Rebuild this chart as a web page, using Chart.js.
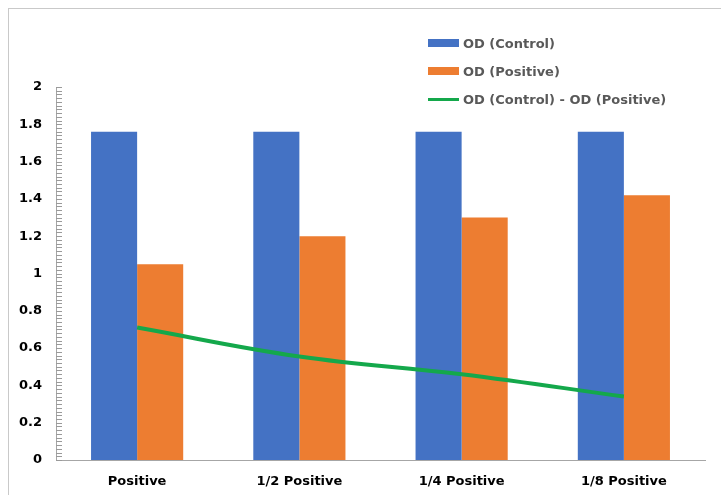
<!DOCTYPE html>
<html>
<head>
<meta charset="utf-8">
<script src="https://cdn.jsdelivr.net/npm/chart.js@4/dist/chart.umd.min.js"></script>
<style>
  body { margin: 0; background: #fff; }
  #wrap { position: relative; width: 721px; height: 495px; overflow: hidden; }
  #frame {
    position: absolute; left: 8px; top: 8px; width: 740px; height: 520px;
    border-left: 1px solid #c9c9c9; border-top: 1px solid #c9c9c9;
  }
  canvas { position: absolute; left: 0; top: 0; }
  #legend {
    position: absolute; left: 428px; top: 33px;
    font: bold 13px "DejaVu Sans", sans-serif; color: #595959;
  }
  .item { display: flex; align-items: center; height: 20px; margin-bottom: 8px; }
  .swatch { width: 31px; height: 8px; margin-right: 4px; }
  .swatch.line { height: 3px; }
</style>
</head>
<body>
<div id="wrap">
  <div id="frame"></div>
  <canvas id="odChart" width="721" height="495"></canvas>
  <div id="legend"></div>
</div>
<script>
const categories = ["Positive", "1/2 Positive", "1/4 Positive", "1/8 Positive"];
const odControl = [1.76, 1.76, 1.76, 1.76];
const odPositive = [1.05, 1.2, 1.3, 1.42];
const odDiff = [0.71, 0.555, 0.46, 0.34];

const BLUE = "#4472C4";
const ORANGE = "#ED7D31";
const GREEN = "#14A84B";
const FONT = "'DejaVu Sans', sans-serif";

// little inside ticks on the value axis, every 0.02
const minorTicks = {
  id: "minorTicks",
  afterDraw(chart) {
    const y = chart.scales.y;
    const ctx = chart.ctx;
    ctx.save();
    ctx.strokeStyle = "#9a9a9a";
    ctx.lineWidth = 1;
    ctx.beginPath();
    for (let i = 0; i <= 100; i++) {
      const py = Math.round(y.getPixelForValue(i * 0.02)) + 0.5;
      ctx.moveTo(y.right, py);
      ctx.lineTo(y.right + 6, py);
    }
    ctx.stroke();
    ctx.restore();
  },
};

const chart = new Chart(document.getElementById("odChart"), {
  type: "bar",
  data: {
    labels: categories,
    datasets: [
      {
        type: "line",
        label: "OD (Control) - OD (Positive)",
        data: odDiff,
        borderColor: GREEN,
        backgroundColor: GREEN,
        borderWidth: 4,
        tension: 0.4,
        pointRadius: 0,
        order: 0,
      },
      {
        label: "OD (Control)",
        data: odControl,
        backgroundColor: BLUE,
        order: 1,
      },
      {
        label: "OD (Positive)",
        data: odPositive,
        backgroundColor: ORANGE,
        order: 1,
      },
    ],
  },
  options: {
    responsive: false,
    animation: false,
    layout: { padding: { top: 87, right: 16, bottom: 0, left: 0 } },
    categoryPercentage: 0.568,
    barPercentage: 1,
    plugins: {
      legend: { display: false },
      tooltip: { enabled: false },
    },
    scales: {
      x: {
        grid: { display: false, drawTicks: false },
        border: { display: true, color: "#a6a6a6", width: 1 },
        ticks: { color: "#000", font: { family: FONT, size: 13, weight: "bold" }, padding: 14 },
        afterFit(scale) { scale.height = 35; },
      },
      y: {
        min: 0,
        max: 2,
        grid: { display: false, drawTicks: false },
        border: { display: true, color: "#a6a6a6", width: 1 },
        ticks: {
          stepSize: 0.2,
          color: "#000",
          font: { family: FONT, size: 13, weight: "bold" },
          padding: 14,
          callback: (v) => String(+v.toFixed(1)),
        },
        afterFit(scale) { scale.width = 56; },
      },
    },
  },
  plugins: [minorTicks],
});

// legend in the order Excel shows it
const legendEl = document.getElementById("legend");
[1, 2, 0].forEach((i) => {
  const ds = chart.data.datasets[i];
  const row = document.createElement("div");
  row.className = "item";
  const sw = document.createElement("span");
  sw.className = ds.type === "line" ? "swatch line" : "swatch";
  sw.style.background = ds.type === "line" ? ds.borderColor : ds.backgroundColor;
  const txt = document.createElement("span");
  txt.textContent = ds.label;
  row.appendChild(sw);
  row.appendChild(txt);
  legendEl.appendChild(row);
});
</script>
</body>
</html>
